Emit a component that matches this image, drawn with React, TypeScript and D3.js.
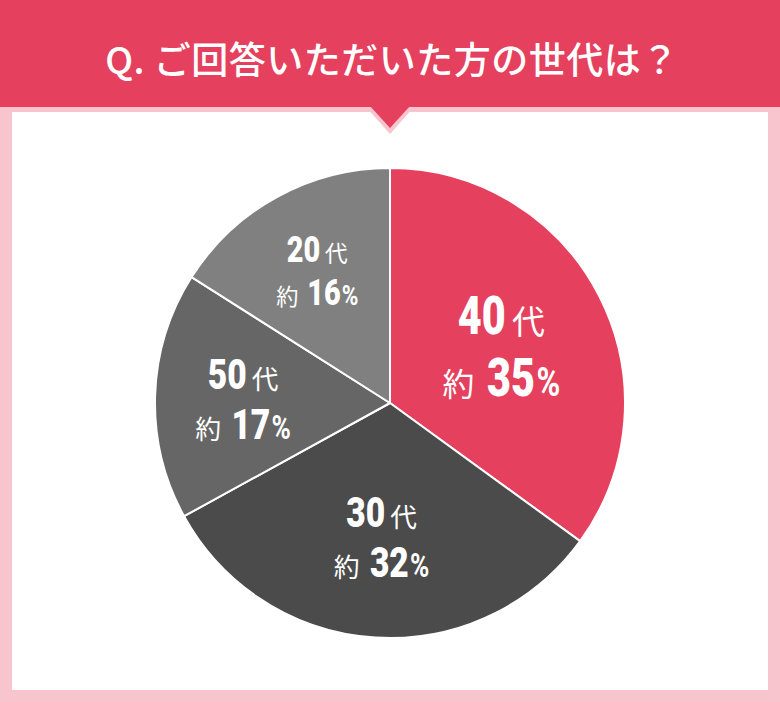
import React, { useEffect, useRef } from 'react';
import * as d3 from 'd3';

// chart data
const categories = ['40', '30', '50', '20'];
const shares = [35, 32, 17, 16];
const title = 'Q. ご回答いただいた方の世代は？';

// layout / style (kept apart from the data)
const sliceColors = ['#e5405d', '#4b4b4b', '#666666', '#808080'];
const labelRadii = [125, 134, 147, 151];
const labelSizes = [53, 43, 43, 37];

const W = 780;
const H = 702;
const RED = '#e5405d';
const PINK = '#f8c4cd';
const DIGIT_FONT = 'Roboto, "Liberation Sans", sans-serif';
const CJK_FONT = '"Noto Sans CJK JP", "Noto Sans", sans-serif';

type Piece = { text: string; font: string; size: number; weight: number; sx: number; gap: number };

export default function App() {
  const ref = useRef<SVGSVGElement>(null);

  useEffect(() => {
    if (!ref.current) return;
    const svg = d3.select(ref.current);
    svg.selectAll('*').remove();

    // pink frame + white panel
    svg.append('rect').attr('width', W).attr('height', H).attr('fill', PINK);
    svg.append('rect')
      .attr('x', 12).attr('y', 112)
      .attr('width', W - 24).attr('height', H - 112 - 12)
      .attr('fill', '#ffffff');

    // header band with pointer
    svg.append('path')
      .attr('d', `M366,107 L414,107 L390,134 Z`)
      .attr('fill', PINK);
    svg.append('rect').attr('width', W).attr('height', 107).attr('fill', RED);
    svg.append('path')
      .attr('d', `M370,106 L410,106 L390,128 Z`)
      .attr('fill', RED);

    svg.append('text')
      .attr('x', W / 2 + 2)
      .attr('y', 58)
      .attr('text-anchor', 'middle')
      .attr('dominant-baseline', 'central')
      .attr('fill', '#ffffff')
      .style('font-family', CJK_FONT)
      .style('font-weight', 500)
      .style('font-size', '37px')
      .style('letter-spacing', '0.5px')
      .text(title);

    // pie
    const cx = 390;
    const cy = 403;
    const radius = 235;

    const pie = d3.pie<number>().sort(null).value(d => d);
    const arcs = pie(shares);
    const arc = d3.arc<d3.PieArcDatum<number>>().innerRadius(0).outerRadius(radius);

    const g = svg.append('g').attr('transform', `translate(${cx},${cy})`);

    g.selectAll('path.slice')
      .data(arcs)
      .enter()
      .append('path')
      .attr('class', 'slice')
      .attr('d', arc)
      .attr('fill', (d, i) => sliceColors[i])
      .attr('stroke', '#ffffff')
      .attr('stroke-width', 2)
      .attr('stroke-linejoin', 'round');

    // one line of mixed text: pieces laid out left to right, then centred
    const drawLine = (x: number, y: number, pieces: Piece[]) => {
      const line = g.append('g');
      let cursor = 0;
      pieces.forEach(p => {
        cursor += p.gap;
        const t = line.append('text')
          .attr('fill', '#ffffff')
          .style('font-family', p.font)
          .style('font-weight', p.weight)
          .style('font-size', `${p.size}px`)
          .text(p.text);
        const w = (t.node() as SVGTextElement).getComputedTextLength() * p.sx;
        t.attr('transform', `translate(${cursor},0) scale(${p.sx},1)`);
        cursor += w;
      });
      line.attr('transform', `translate(${x - cursor / 2},${y})`);
    };

    arcs.forEach((d, i) => {
      const r = labelRadii[i];
      const [lx, ly] = d3.arc<d3.PieArcDatum<number>>().innerRadius(r).outerRadius(r).centroid(d);
      const fs = labelSizes[i];
      const gap = fs * 1.16;
      const capHalf = fs * 0.355;

      drawLine(lx, ly - gap / 2 + capHalf, [
        { text: categories[i], font: DIGIT_FONT, size: fs, weight: 900, sx: 0.78, gap: 0 },
        { text: '代', font: CJK_FONT, size: fs * 0.62, weight: 400, sx: 1, gap: fs * 0.12 },
      ]);
      drawLine(lx, ly + gap / 2 + capHalf, [
        { text: '約', font: CJK_FONT, size: fs * 0.6, weight: 400, sx: 1, gap: 0 },
        { text: String(shares[i]), font: DIGIT_FONT, size: fs, weight: 900, sx: 0.78, gap: fs * 0.24 },
        { text: '%', font: DIGIT_FONT, size: fs * 0.76, weight: 700, sx: 0.8, gap: fs * 0.03 },
      ]);
    });
  }, []);

  return (
    <div style={{ width: W, height: H }}>
      <style>{`body { margin: 0; }`}</style>
      <svg ref={ref} width={W} height={H} style={{ display: 'block' }} />
    </div>
  );
}
